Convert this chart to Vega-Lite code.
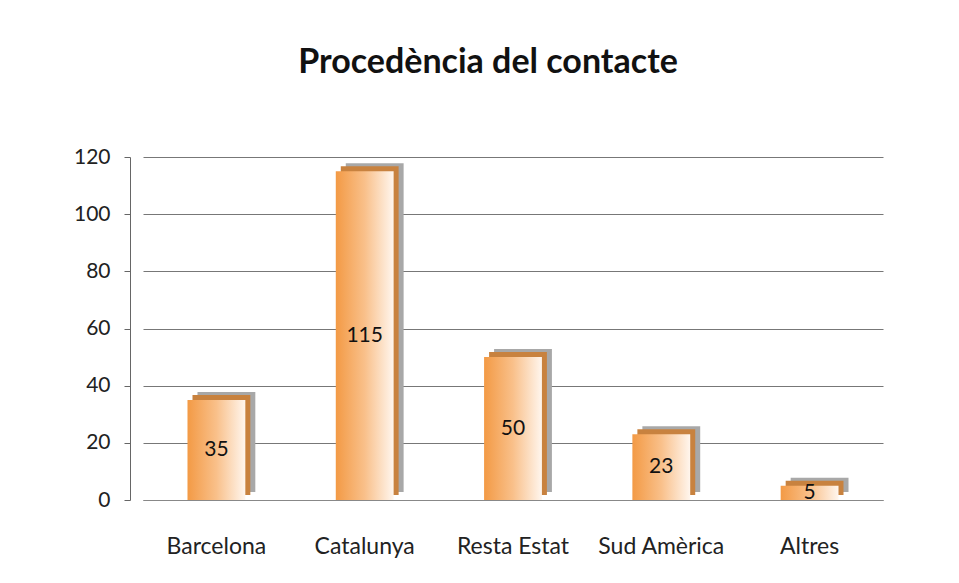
{
  "$schema": "https://vega.github.io/schema/vega-lite/v6.json",
  "autosize": "none",
  "padding": {"left": 143, "top": 157, "right": 76, "bottom": 83},
  "width": 740,
  "height": 343,
  "background": "white",
  "title": {
    "text": "Procedència del contacte",
    "font": "Lato",
    "fontSize": 34,
    "fontWeight": "bold",
    "color": "#111111",
    "anchor": "middle",
    "baseline": "alphabetic",
    "offset": 39,
    "dx": -25
  },
  "data": {
    "values": [
      {"origen": "Barcelona", "valor": 35},
      {"origen": "Catalunya", "valor": 115},
      {"origen": "Resta Estat", "valor": 50},
      {"origen": "Sud Amèrica", "valor": 23},
      {"origen": "Altres", "valor": 5}
    ]
  },
  "encoding": {
    "x": {
      "field": "origen",
      "type": "nominal",
      "sort": null,
      "scale": {"paddingInner": 0.61, "paddingOuter": 0.3},
      "axis": {
        "title": null,
        "labelAngle": 0,
        "labelFont": "Lato",
        "labelFontSize": 23,
        "labelColor": "#222222",
        "labelPadding": 35,
        "ticks": false,
        "domainColor": "#888888"
      }
    }
  },
  "layer": [
    {
      "mark": {"type": "bar", "xOffset": 10, "yOffset": -8, "color": "#a8a8a8"},
      "encoding": {
        "y": {
          "field": "valor",
          "type": "quantitative",
          "scale": {"domain": [0, 120]},
          "axis": {
            "title": null,
            "values": [0, 20, 40, 60, 80, 100, 120],
            "labelFont": "Lato",
            "labelFontSize": 21,
            "labelColor": "#222222",
            "labelPadding": 14,
            "tickSize": 6,
            "tickColor": "#666666",
            "domainColor": "#666666",
            "offset": 13,
            "gridColor": "#777777",
            "gridWidth": 1
          }
        }
      }
    },
    {
      "mark": {"type": "bar", "xOffset": 5, "yOffset": -5, "color": "#c8823f"},
      "encoding": {
        "y": {"field": "valor", "type": "quantitative"}
      }
    },
    {
      "mark": {
        "type": "bar",
        "color": {
          "gradient": "linear",
          "x1": 0, "y1": 0, "x2": 1, "y2": 0,
          "stops": [
            {"offset": 0, "color": "#f39a45"},
            {"offset": 0.5, "color": "#f9c08a"},
            {"offset": 1, "color": "#fff6ee"}
          ]
        }
      },
      "encoding": {
        "y": {"field": "valor", "type": "quantitative"}
      }
    },
    {
      "transform": [{"calculate": "datum.valor / 2", "as": "mig"}],
      "mark": {"type": "text", "font": "Lato", "fontSize": 21, "color": "#111111", "baseline": "middle"},
      "encoding": {
        "y": {"field": "mig", "type": "quantitative"},
        "text": {"field": "valor", "type": "quantitative"}
      }
    }
  ],
  "config": {
    "view": {"stroke": null}
  }
}
